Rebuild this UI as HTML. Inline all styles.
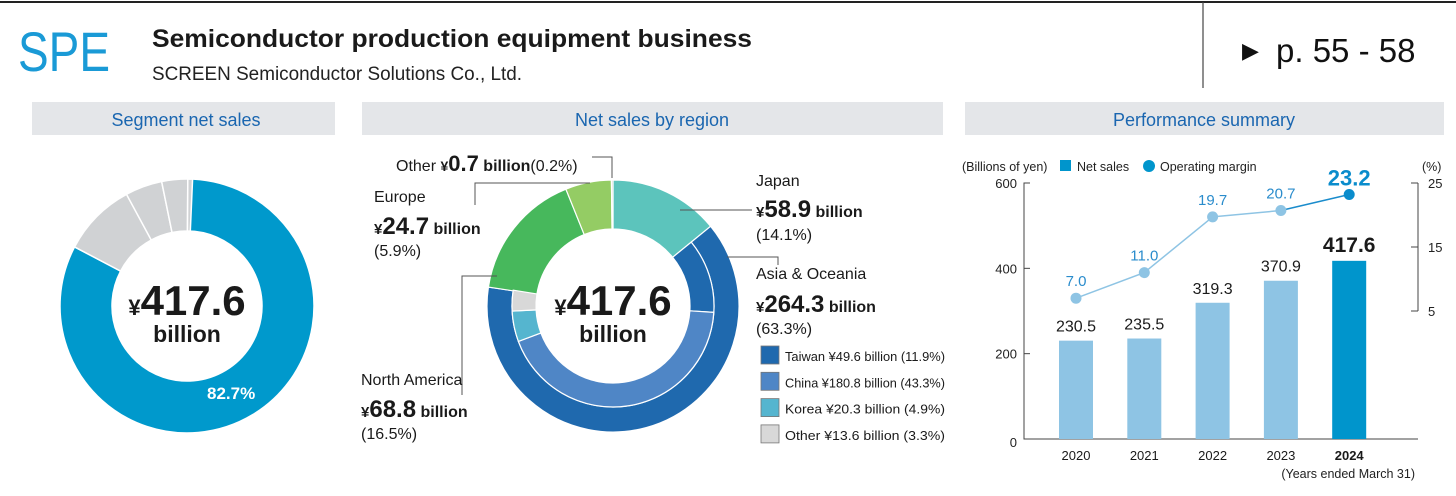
<!DOCTYPE html>
<html><head><meta charset="utf-8">
<style>
html,body{margin:0;padding:0;background:#fff;}
svg{display:block;font-family:"Liberation Sans",sans-serif;}
</style></head>
<body>
<svg id="s" width="1456" height="496" viewBox="0 0 1456 496">
<line x1="0" y1="2" x2="1456" y2="2" stroke="#222" stroke-width="2"/>
<line x1="1203" y1="2" x2="1203" y2="88" stroke="#444" stroke-width="1.2"/>
<text x="18" y="71" font-size="56" fill="#1a9ad6" textLength="92" lengthAdjust="spacingAndGlyphs">SPE</text>
<text x="152" y="47" font-size="25" font-weight="bold" fill="#1a1a1a" textLength="600" lengthAdjust="spacingAndGlyphs">Semiconductor production equipment business</text>
<text x="152" y="80" font-size="19" fill="#222" textLength="370" lengthAdjust="spacingAndGlyphs">SCREEN Semiconductor Solutions Co., Ltd.</text>
<text x="1242" y="58" font-size="22" fill="#111">▶</text>
<text x="1276" y="62" font-size="33" fill="#111">p. 55 - 58</text>

<rect x="32" y="102" width="303" height="33" fill="#e4e6e9"/>
<text x="186" y="126" font-size="18" fill="#1a66b0" text-anchor="middle">Segment net sales</text>
<rect x="362" y="102" width="581" height="33" fill="#e4e6e9"/>
<text x="652" y="126" font-size="18" fill="#1a66b0" text-anchor="middle">Net sales by region</text>
<rect x="965" y="102" width="479" height="33" fill="#e4e6e9"/>
<text x="1204" y="126" font-size="18" fill="#1a66b0" text-anchor="middle">Performance summary</text>

<g id="d1"></g>
<text x="187" y="315" font-size="42" font-weight="bold" fill="#1a1a1a" text-anchor="middle"><tspan font-size="22">¥</tspan>417.6</text>
<text x="187" y="342" font-size="23" font-weight="bold" fill="#1a1a1a" text-anchor="middle">billion</text>
<text x="207" y="399" font-size="17" font-weight="bold" fill="#fff">82.7%</text>

<g id="d2"></g>
<text x="613" y="315" font-size="42" font-weight="bold" fill="#1a1a1a" text-anchor="middle"><tspan font-size="22">¥</tspan>417.6</text>
<text x="613" y="342" font-size="23" font-weight="bold" fill="#1a1a1a" text-anchor="middle">billion</text>

<g fill="none" stroke="#555" stroke-width="1">
<polyline points="592,157 612,157 612,178"/>
<polyline points="590,183 475,183 475,205"/>
<polyline points="497,276 462,276 462,395"/>
<polyline points="680,210 752,210"/>
<polyline points="727,257 778,257 778,265"/>
</g>
<g fill="#1a1a1a">
<text x="396" y="171" font-size="16">Other <tspan font-weight="bold" font-size="14">¥</tspan><tspan font-weight="bold" font-size="22">0.7</tspan><tspan font-weight="bold" font-size="16"> billion</tspan>(0.2%)</text>
<text x="374" y="202" font-size="16">Europe</text>
<text x="374" y="234" font-size="16" font-weight="bold"><tspan font-size="15">¥</tspan><tspan font-size="24">24.7</tspan> billion</text>
<text x="374" y="256" font-size="16">(5.9%)</text>
<text x="361" y="385" font-size="16">North America</text>
<text x="361" y="417" font-size="16" font-weight="bold"><tspan font-size="15">¥</tspan><tspan font-size="24">68.8</tspan> billion</text>
<text x="361" y="439" font-size="16">(16.5%)</text>
<text x="756" y="186" font-size="16">Japan</text>
<text x="756" y="217" font-size="16" font-weight="bold"><tspan font-size="15">¥</tspan><tspan font-size="24">58.9</tspan> billion</text>
<text x="756" y="240" font-size="16">(14.1%)</text>
<text x="756" y="279" font-size="16">Asia &amp; Oceania</text>
<text x="756" y="312" font-size="16" font-weight="bold"><tspan font-size="15">¥</tspan><tspan font-size="24">264.3</tspan> billion</text>
<text x="756" y="334" font-size="16">(63.3%)</text>
</g>
<g id="leg"></g>

<g id="bc"></g>
</svg>
<script>
const NS="http://www.w3.org/2000/svg";
function mk(p,tag,a){const e=document.createElementNS(NS,tag);for(const k in a)e.setAttribute(k,a[k]);p.appendChild(e);return e;}
function arc(cx,cy,r0,r1,a0,a1){
  const f=a=>(a-90)*Math.PI/180;
  const p=(r,a)=>[cx+r*Math.cos(f(a)),cy+r*Math.sin(f(a))];
  const L=(a1-a0)>180?1:0;
  const [x1,y1]=p(r1,a0),[x2,y2]=p(r1,a1),[x3,y3]=p(r0,a1),[x4,y4]=p(r0,a0);
  return `M${x1},${y1}A${r1},${r1} 0 ${L} 1 ${x2},${y2}L${x3},${y3}A${r0},${r0} 0 ${L} 0 ${x4},${y4}Z`;
}
// segment donut data
const segShares=[82.7,9.4,4.7,3.3,0.6];
const segColors=["#0099cc","#d0d2d4","#d0d2d4","#d0d2d4","#d0d2d4"];
// region donut data
const regionNames=["japan","asia-oceania","north-america","europe","other"];
const regionShares=[14.1,63.3,16.5,5.9,0.2];
const regionColors=["#5cc4bc","#1f69ae","#47b85c","#94cc64","#c8c8c8"];
const asiaNames=["taiwan","china","korea","other-asia"];
const asiaShares=[11.9,43.3,4.9,3.3];
const asiaColors=["#1f69ae","#4f86c6","#55b5cf","#d8d8d8"];
const asiaLabels=["Taiwan ¥49.6 billion (11.9%)","China ¥180.8 billion (43.3%)","Korea ¥20.3 billion (4.9%)","Other ¥13.6 billion (3.3%)"];
// performance data
const years=["2020","2021","2022","2023","2024"];
const netSales=[230.5,235.5,319.3,370.9,417.6];
const margins=[7.0,11.0,19.7,20.7,23.2];
const leftTicks=[0,200,400,600];
const rightTicks=[5,15,25];

// donut 1
(function(){
  const g=document.getElementById('d1');let a=0;
  segShares.forEach((v,i)=>{const b=a+v*3.6;
    const e=mk(g,'path',{d:arc(187,306,75,127,a,b),fill:segColors[i],stroke:'#fff','stroke-width':1.5});
    
    a=b;});
})();
// donut 2
(function(){
  const g=document.getElementById('d2');const cx=613,cy=306;let a=0,asiaStart=0;
  regionShares.forEach((v,i)=>{const b=a+v*3.6;
    if(i==1){asiaStart=a;}
    const e=mk(g,'path',{d:arc(cx,cy,i==1?101:77,126,a,b),fill:regionColors[i],stroke:'#fff','stroke-width':1.2});
    
    a=b;});
  let c=asiaStart;
  asiaShares.forEach((v,i)=>{const b=c+v*3.6;
    const e=mk(g,'path',{d:arc(cx,cy,77,101,c,b),fill:asiaColors[i],stroke:'#fff','stroke-width':1.2});
    
    c=b;});
  const lg=document.getElementById('leg');
  asiaLabels.forEach((t,i)=>{const y=346+i*26.3;
    const r=mk(lg,'rect',{x:761,y:y,width:18,height:18,fill:asiaColors[i],stroke:'#777','stroke-width':0.8});
    
    
    const tx=mk(lg,'text',{x:785,y:y+15,'font-size':13,fill:'#1a1a1a',textLength:160,lengthAdjust:'spacingAndGlyphs'});tx.textContent=t;
    
    });
})();
// bar chart
(function(){
  const g=document.getElementById('bc');
  const x0=1024,x1=1418,yb=439,yt=183;
  const y=v=>yb-(v/600)*(yb-yt);
  const yr=v=>311-(v-5)*(311-183)/20;
  const xc=i=>1076+i*68.3;
  let e=mk(g,'text',{x:962,y:171,'font-size':12.5,fill:'#222'});e.textContent='(Billions of yen)';
  
  e=mk(g,'rect',{x:1060,y:160,width:11,height:11,fill:'#0095cc'});
  
  e=mk(g,'text',{x:1077,y:171,'font-size':12.5,fill:'#222'});e.textContent='Net sales';
  
  e=mk(g,'circle',{cx:1149,cy:166,r:6,fill:'#0095cc'});
  
  e=mk(g,'text',{x:1160,y:171,'font-size':12.5,fill:'#222'});e.textContent='Operating margin';
  
  e=mk(g,'text',{x:1422,y:171,'font-size':12.5,fill:'#222'});e.textContent='(%)';
  
  e=mk(g,'polyline',{points:`${x0+6},${yt} ${x0},${yt} ${x0},${yb} ${x1},${yb}`,fill:'none',stroke:'#444','stroke-width':1});
  
  leftTicks.forEach(t=>{const l=mk(g,'line',{x1:x0,x2:x0+6,y1:y(t),y2:y(t),stroke:'#444'});
    
    const tx=mk(g,'text',{x:x0-7,y:y(t)+(t==0?8:5),'font-size':13,fill:'#222','text-anchor':'end'});tx.textContent=t;
    });
  e=mk(g,'line',{x1:1418,x2:1418,y1:yr(25),y2:yr(5),stroke:'#444'});
  
  rightTicks.forEach(t=>{const l=mk(g,'line',{x1:1411,x2:1418,y1:yr(t),y2:yr(t),stroke:'#444'});
    
    const tx=mk(g,'text',{x:1428,y:yr(t)+5,'font-size':13,fill:'#222'});tx.textContent=t;
    });
  netSales.forEach((v,i)=>{const last=i==netSales.length-1;
    const r=mk(g,'rect',{x:xc(i)-17,y:y(v),width:34,height:yb-y(v),fill:last?'#0095cc':'#8ec4e4'});
    
    const t=mk(g,'text',{x:xc(i),y:y(v)-9,'font-size':last?21:16,'font-weight':last?'bold':'normal',fill:'#1a1a1a','text-anchor':'middle'});t.textContent=v.toFixed(1);
    
    const yl=mk(g,'text',{x:xc(i),y:460,'font-size':13,'font-weight':last?'bold':'normal',fill:'#1a1a1a','text-anchor':'middle'});yl.textContent=years[i];
    });
  e=mk(g,'text',{x:1415,y:478,'font-size':12.5,fill:'#222','text-anchor':'end'});e.textContent='(Years ended March 31)';
  
  for(let i=0;i<margins.length-1;i++){const last=i==margins.length-2;
    const l=mk(g,'line',{x1:xc(i),y1:yr(margins[i]),x2:xc(i+1),y2:yr(margins[i+1]),stroke:last?'#1a8ccc':'#8ec4e4','stroke-width':1.5});
    }
  margins.forEach((v,i)=>{const last=i==margins.length-1;
    const c=mk(g,'circle',{cx:xc(i),cy:yr(v),r:5.5,fill:last?'#0a8ccc':'#8ec4e4'});
    
    const t=mk(g,'text',{x:xc(i),y:yr(v)-(last?9:12),'font-size':last?22:15,'font-weight':last?'bold':'normal',fill:last?'#0a8ccc':'#2a8ccc','text-anchor':'middle'});t.textContent=v.toFixed(1);
    });
})();
</script>
</body></html>
